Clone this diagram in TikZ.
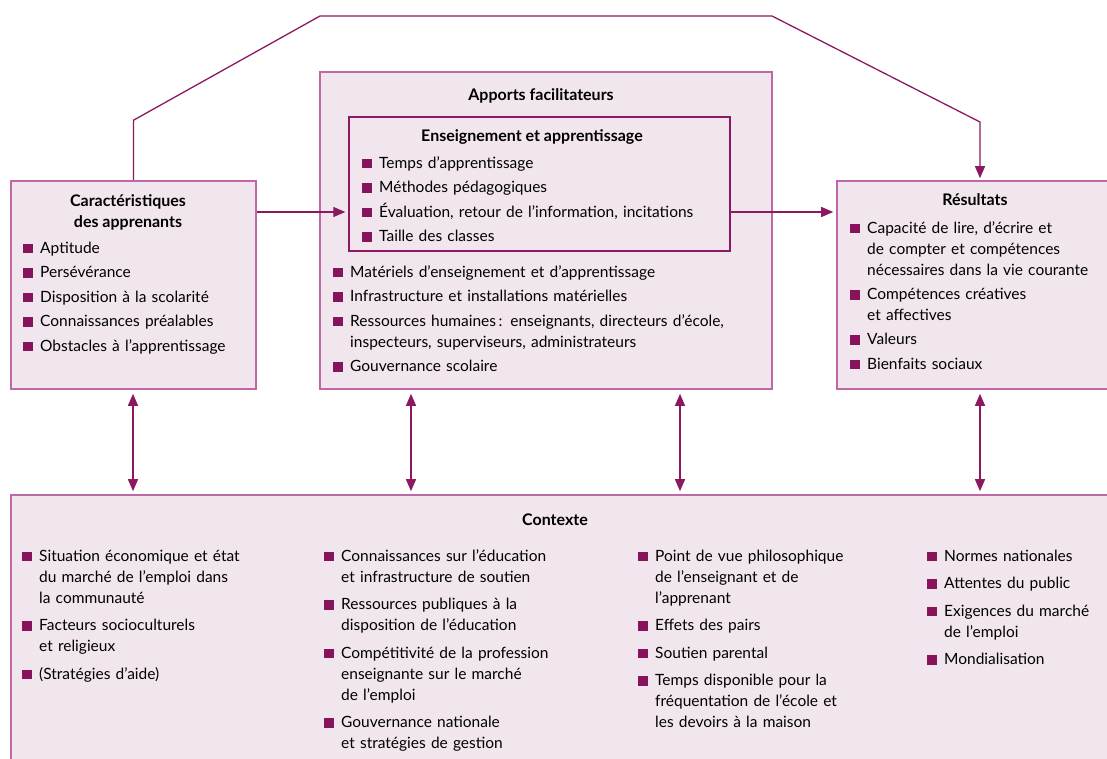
\documentclass[tikz,border=0pt]{standalone}
\usepackage{fontspec}
\setmainfont{Lato}
\usetikzlibrary{arrows.meta}

\newcommand{\puce}{\textcolor{puce1}{\rule{9.5pt}{9.5pt}}}
\newcommand{\elt}[1]{\par\hangindent=17pt\hangafter=1\noindent\makebox[17pt][l]{\puce}#1\par}

\begin{document}
\begin{tikzpicture}[x=1pt,y=-1pt]
\definecolor{bord1}{RGB}{190,105,165}
\definecolor{fond1}{RGB}{241,229,238}
\definecolor{puce1}{RGB}{135,20,90}
\definecolor{trait1}{RGB}{140,25,95}
\tikzset{
    boite/.style={draw=bord1,fill=fond1,line width=1.6pt,inner sep=0},
    titre/.style={font=\fontsize{16}{21}\selectfont\bfseries,align=center},
    liste/.style={anchor=north west,inner sep=0,text width=#1,align=left,font=\fontsize{15.5}{21}\selectfont},
    ecart/.style={execute at begin node={\setlength{\parskip}{#1}}},
    fleche/.style={trait1,line width=1.3pt,-{Triangle[length=12pt,width=10pt]}},
    dfleche/.style={trait1,line width=1.3pt,{Triangle[length=12pt,width=10pt]}-{Triangle[length=12pt,width=10pt]},shorten <=4pt,shorten >=3pt}
}
\useasboundingbox (0,0) rectangle (1107,758);
\clip (0,0) rectangle (1107,758);

\node[boite,minimum width=245,minimum height=208] (carac) at (133.5,285) {};
\node[boite,minimum width=452,minimum height=317] (appo) at (546,230.5) {};
\node[boite,draw=trait1,line width=1.4pt,minimum width=381,minimum height=134] (ens) at (539.5,184) {};
\node[boite,minimum width=286,minimum height=208] (res) at (980,285) {};
\node[boite,minimum width=1114,minimum height=295] (ctx) at (568,642.5) {};

\node[titre] (tcarac) at (128,212) {Caractéristiques\\des apprenants};
\node[titre] (tappo) at (541,95.5) {Apports facilitateurs};
\node[titre] (tens) at (532,137) {Enseignement et apprentissage};
\node[titre] (tres) at (975,200) {Résultats};
\node[titre] (tctx) at (555,520) {Contexte};

\node[liste=230,ecart=3.5pt] (lcarac) at (23,228.5) {\elt{Aptitude}\elt{Persévérance}\elt{Disposition à la scolarité}\elt{Connaissances préalables}\elt{Obstacles à l’apprentissage}};
\node[liste=365,ecart=3.5pt] (lens) at (362,143.5) {\elt{Temps d’apprentissage}\elt{Méthodes pédagogiques}\elt{Évaluation, retour de l’information, incitations}\elt{Taille des classes}};
\node[liste=435,ecart=3.5pt] (lappo) at (333,252.5) {\elt{Matériels d’enseignement et d’apprentissage}\elt{Infrastructure et installations matérielles}\elt{Ressources humaines\,: enseignants, directeurs d’école,\newline inspecteurs, superviseurs, administrateurs}\elt{Gouvernance scolaire}};
\node[liste=255,ecart=3.2pt] (lres) at (850,209) {\elt{Capacité de lire, d’écrire et\newline de compter et compétences\newline nécessaires dans la vie courante}\elt{Compétences créatives\newline et affectives}\elt{Valeurs}\elt{Bienfaits sociaux}};

\node[liste=290,ecart=6.5pt] (lctx1) at (22,533.5) {\elt{Situation économique et état\newline du marché de l’emploi dans\newline la communauté}\elt{Facteurs socioculturels\newline et religieux}\elt{(Stratégies d’aide)}};
\node[liste=305,ecart=6.5pt] (lctx2) at (324,533.5) {\elt{Connaissances sur l’éducation\newline et infrastructure de soutien}\elt{Ressources publiques à la\newline disposition de l’éducation}\elt{Compétitivité de la profession\newline enseignante sur le marché\newline de l’emploi}\elt{Gouvernance nationale\newline et stratégies de gestion}};
\node[liste=285,ecart=6.5pt] (lctx3) at (638,533.5) {\elt{Point de vue philosophique\newline de l’enseignant et de\newline l’apprenant}\elt{Effets des pairs}\elt{Soutien parental}\elt{Temps disponible pour la\newline fréquentation de l’école et\newline les devoirs à la maison}};
\node[liste=175,ecart=6.5pt] (lctx4) at (927,533.5) {\elt{Normes nationales}\elt{Attentes du public}\elt{Exigences du marché\newline de l’emploi}\elt{Mondialisation}};

\coordinate (h) at (0,212);
\draw[fleche,shorten >=3pt] (carac.east |- h) -- (ens.west |- h);
\draw[fleche,shorten >=3pt] (ens.east |- h) -- (res.west |- h);
\draw[fleche,shorten >=2pt] (carac.north) -- ++(0,-60) -- (320,16) -- (772,16) -- (980,122) -- (res.north);
\foreach \x in {133,411,680,980} {
    \coordinate (v) at (\x,0);
    \draw[dfleche] (appo.south -| v) -- (ctx.north -| v);
}
\end{tikzpicture}
\end{document}
